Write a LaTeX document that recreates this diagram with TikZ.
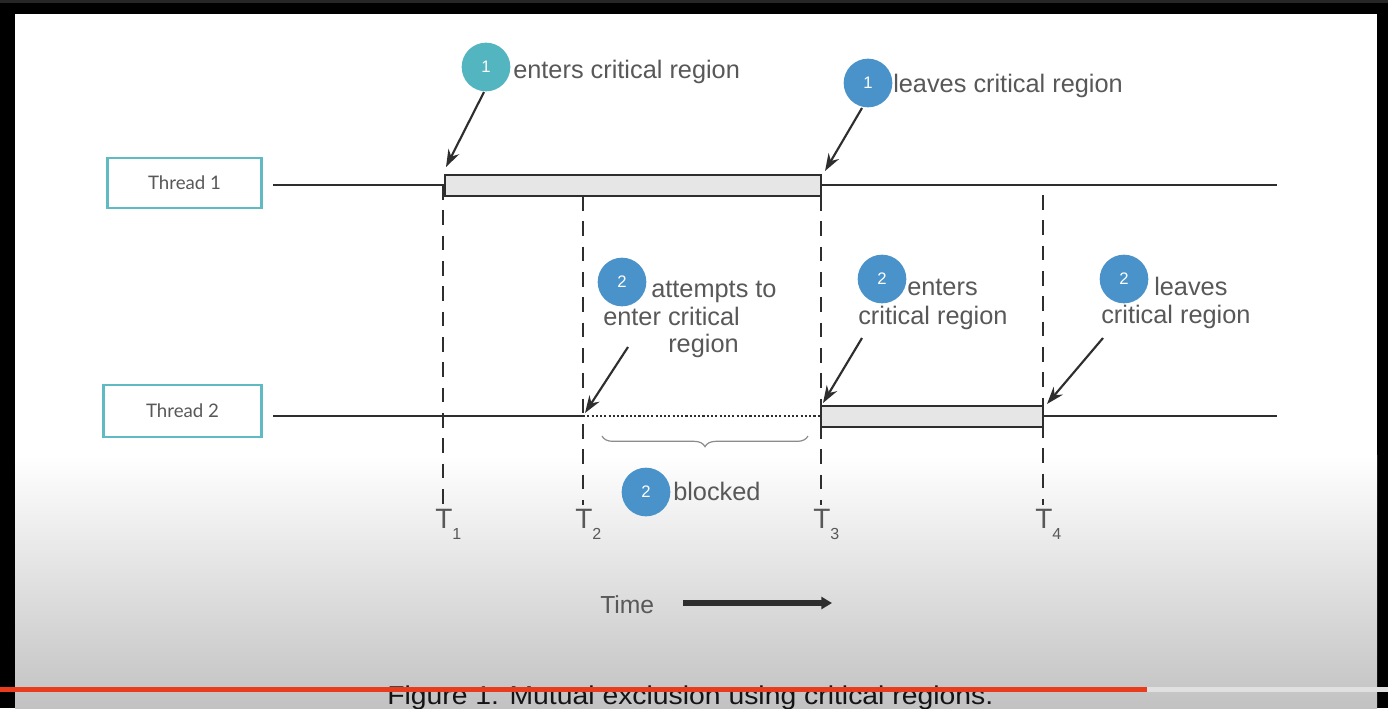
\documentclass[tikz,border=0pt]{standalone}
\usepackage{fontspec}
\setmainfont{Liberation Sans}
\newfontfamily\latofont{Lato}
\usetikzlibrary{arrows.meta,decorations.pathreplacing}
\definecolor{tealc}{HTML}{52B5C0}
\definecolor{bluec}{HTML}{4A93CA}
\definecolor{boxteal}{HTML}{5FBAC3}
\definecolor{txt}{HTML}{585858}
\definecolor{ln}{HTML}{2E2E2E}
\definecolor{barfill}{HTML}{E6E6E6}
\definecolor{ytred}{HTML}{E93B1E}
\tikzset{
  threadbox/.style={draw=boxteal, line width=2.2pt, fill=white, text=txt,
    font=\latofont\fontsize{14}{16}\selectfont, inner sep=0pt},
  tline/.style={draw=ln, line width=1.7pt},
  crbar/.style={draw=ln, line width=1.4pt, fill=barfill},
  vdash/.style={draw=ln, line width=1.5pt, dash pattern=on 11pt off 8pt},
  badge/.style={circle, minimum size=36.5pt, inner sep=0pt, text=white,
    font=\fontsize{12.5}{14}\selectfont},
  lbl/.style={text=txt, font=\fontsize{19}{21}\selectfont, inner sep=0pt},
  tlbl/.style={text=txt, font=\fontsize{21}{24}\selectfont, inner sep=0pt, anchor=base west},
  pointer/.style={draw=ln, line width=1.6pt, -{Stealth[length=13pt,width=9pt]}},
}
\begin{document}
\begin{tikzpicture}[x=0.75pt,y=-0.75pt]
\useasboundingbox (0,0) rectangle (1388,708);
\clip (0,0) rectangle (1388,708);
% video frame
\fill[black] (0,0) rectangle (1388,708);
\fill[black!85] (0,0) rectangle (1388,3);
\fill[white] (15,14) rectangle (1377,455);
\shade[top color=white, bottom color=black!24] (15,455) rectangle (1377,708);

% thread boxes
\node[threadbox, minimum width=115pt, minimum height=37.5pt] (th1) at (184.5,183) {Thread 1};
\node[threadbox, minimum width=118pt, minimum height=39pt] (th2) at (182.5,411) {Thread 2};

% key points
\coordinate (a1) at (273,185); \coordinate (b1) at (1277,185);
\coordinate (a2) at (273,416); \coordinate (b2) at (1277,416);
\coordinate (p1) at (445,185); \coordinate (p2) at (583,416);
\coordinate (p3) at (821,416); \coordinate (p4) at (1043,416);

% vertical dashed time marks
\draw[vdash] (443,185) -- (443,505);
\draw[vdash] (583,196) -- (583,505);
\draw[vdash] (821,196) -- (821,505);
\draw[vdash] (1043,195) -- (1043,505);

% thread lines
\draw[tline] (a1) -- (b1);
\draw[crbar] (445,175) rectangle (821,196);
\draw[tline] (a2) -- (p2);
\draw[draw=ln, line width=1.8pt, dash pattern=on 1.6pt off 1.6pt] (p2) -- (p3);
\draw[tline] (p4) -- (b2);
\draw[crbar] (821,406) rectangle (1043,427);
\draw[draw=ln, line width=1.5pt] (821,400) -- (821,433);
\draw[draw=ln, line width=1.5pt] (1043,400) -- (1043,433);

% brace
\draw[draw=black!45, line width=0.9pt, decorate, decoration={brace, mirror, amplitude=8pt}]
  (602,436) -- (808,436);

% time labels
\node[tlbl] (T1) at (435,528) {T\raisebox{-8.5pt}{\fontsize{12}{12}\selectfont 1}};
\node[tlbl] (T2) at (575,528) {T\raisebox{-8.5pt}{\fontsize{12}{12}\selectfont 2}};
\node[tlbl] (T3) at (813,528) {T\raisebox{-8.5pt}{\fontsize{12}{12}\selectfont 3}};
\node[tlbl] (T4) at (1035,528) {T\raisebox{-8.5pt}{\fontsize{12}{12}\selectfont 4}};

% badges and labels
\node[badge, fill=tealc] (c1) at (486,67) {1};
\node[lbl, anchor=base west] (l1) at (513,78) {enters critical region};
\node[badge, fill=bluec] (c2) at (868,83) {1};
\node[lbl, anchor=base west] (l2) at (893,92) {leaves critical region};

\node[badge, fill=bluec] (c3) at (622,282) {2};
\node[lbl, anchor=base west] (l3a) at (651,297) {attempts to};
\node[lbl, anchor=base west] (l3b) at (603,325) {enter critical};
\node[lbl, anchor=base west] (l3c) at (668,352) {region};

\node[badge, fill=bluec] (c4) at (882,279) {2};
\node[lbl, anchor=base west] (l4a) at (907,295) {enters};
\node[lbl, anchor=base west] (l4b) at (858,324) {critical region};

\node[badge, fill=bluec] (c5) at (1124,279) {2};
\node[lbl, anchor=base west] (l5a) at (1154,295) {leaves};
\node[lbl, anchor=base west] (l5b) at (1101,323) {critical region};

\node[badge, fill=bluec] (c6) at (646,492) {2};
\node[lbl, anchor=base west] (l6) at (673,500) {blocked};

% pointer arrows
\coordinate (s1) at (484,92);  \coordinate (e1) at (446,167);
\coordinate (s2) at (862,108); \coordinate (e2) at (825,171);
\coordinate (s3) at (628,347); \coordinate (e3) at (585,413);
\coordinate (s4) at (862,338); \coordinate (e4) at (823,403);
\coordinate (s5) at (1103,338); \coordinate (e5) at (1047,404);
\draw[pointer] (s1) -- (e1);
\draw[pointer] (s2) -- (e2);
\draw[pointer] (s3) -- (e3);
\draw[pointer] (s4) -- (e4);
\draw[pointer] (s5) -- (e5);

% time arrow
\node[lbl, anchor=base west, font=\fontsize{18.5}{21}\selectfont] (time) at (600,613) {Time};
\coordinate (ta) at (683,603); \coordinate (tb) at (832,603);
\draw[draw=ln, line width=4pt, -{Triangle[length=8pt,width=9pt]}] (ta) -- (tb);

% caption
\node[anchor=base west, inner sep=0pt, text=black!92] (cap) at (387,704)
  {\resizebox{454.5pt}{14pt}{Figure 1. Mutual exclusion using critical regions.}};

% progress bar
\fill[black!12] (1147,687) rectangle (1388,692);
\fill[ytred] (0,687) rectangle (1147,692);
\end{tikzpicture}
\end{document}
